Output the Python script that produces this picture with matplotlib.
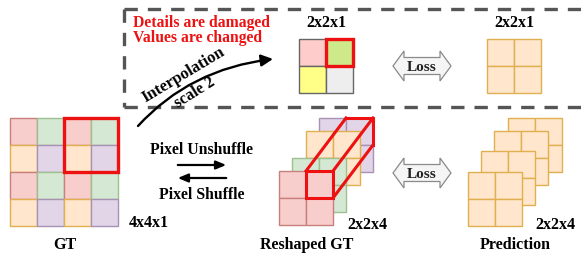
import matplotlib
matplotlib.use("Agg")
import matplotlib.pyplot as plt
from matplotlib.patches import Rectangle, Polygon, FancyArrowPatch
from matplotlib.path import Path

# ---- data (diagram content) ----
gt_pattern = [["pink", "green", "pink", "green"],
              ["orange", "purple", "orange", "purple"],
              ["pink", "green", "pink", "green"],
              ["orange", "purple", "orange", "purple"]]
fills = {"pink": "#f8cecc", "green": "#d5e8d4", "orange": "#ffe6cc", "purple": "#e1d5e7"}
edges = {"pink": "#c97f7c", "green": "#9cc08e", "orange": "#e0b050", "purple": "#a891b5"}
interp_colors = [["#ffcccc", "#cde98a"], ["#ffff88", "#eeeeee"]]
reshaped_order = ["purple", "orange", "green", "pink"]          # back to front
reshaped_origins = [(319, 119), (306, 132), (292, 159), (279, 172)]
pred_origins = [(508, 119), (494, 132), (481, 152), (468, 173)]
warn_lines = ["Details are damaged", "Values are changed"]
dim_labels = ["4x4x1", "2x2x1", "2x2x1", "2x2x4", "2x2x4"]
names = ["GT", "Reshaped GT", "Prediction"]

W, H = 581, 255
fig = plt.figure(figsize=(W / 100, H / 100), dpi=100)
ax = fig.add_axes([0, 0, 1, 1])
ax.set_xlim(0, W)
ax.set_ylim(H, 0)
ax.axis("off")

SERIF = ["Liberation Serif", "DejaVu Serif"]
FS = 11.5
C = 27  # cell size


def label(x, y, s, fs=FS, **kw):
    ax.text(x, y, s, ha="center", va="center", fontsize=fs, fontweight="bold",
            family=SERIF, **kw)


def grid2(x0, y0, fc, ec, lw=1.0, z=2):
    for r in range(2):
        for c in range(2):
            f = fc[r][c] if isinstance(fc, list) else fc
            ax.add_patch(Rectangle((x0 + c * C, y0 + r * C), C, C, facecolor=f,
                                   edgecolor=ec, lw=lw, zorder=z))


def loss_arrow(xc, yc):
    L, R = xc - 29, xc + 29
    hh, bh, head = 15, 8.5, 11
    pts = [(L, yc), (L + head, yc - hh), (L + head, yc - bh), (R - head, yc - bh),
           (R - head, yc - hh), (R, yc), (R - head, yc + hh), (R - head, yc + bh),
           (L + head, yc + bh), (L + head, yc + hh)]
    ax.add_patch(Polygon(pts, closed=True, facecolor="#f5f5f5", edgecolor="#8a8a8a",
                         lw=0.9, zorder=3))
    label(xc, yc + 1, "Loss", fs=11, color="#222222", zorder=4)


# dashed box
dk = dict(color="#555555", lw=2.4, dashes=(4, 3), zorder=1)
ax.plot([124, 124], [10, 108], **dk)
ax.plot([124, 581], [10, 10], **dk)
ax.plot([124, 581], [108, 108], **dk)

# warning text
for i, t in enumerate(warn_lines):
    ax.text(133, 23 + 15 * i, t, ha="left", va="center", fontsize=11.3,
            fontweight="bold", family=SERIF, color="#ee1111")

# GT grid
x0, y0 = 10, 119
for r in range(4):
    for c in range(4):
        k = gt_pattern[r][c]
        ax.add_patch(Rectangle((x0 + c * C, y0 + r * C), C, C, facecolor=fills[k],
                               edgecolor=edges[k], lw=1.0, zorder=2))
ax.add_patch(Rectangle((x0 + 2 * C, y0), 2 * C, 2 * C, facecolor="none",
                       edgecolor="#ee1111", lw=2.4, zorder=5))
label(65, 245, names[0])
label(149, 223, dim_labels[0])

# interpolation arrow (quadratic curve)
curve = Path([(138, 127), (190, 70), (273, 60)], [Path.MOVETO, Path.CURVE3, Path.CURVE3])
arr = FancyArrowPatch(path=curve, arrowstyle="-|>,head_length=7,head_width=3.5",
                      color="black", lw=1.7, zorder=6)
ax.add_patch(arr)
label(183, 75, "Interpolation", fs=12, rotation=31, zorder=7)
label(195, 93, "scale 2", fs=11.5, rotation=32, zorder=7)

# interpolated grid
grid2(299, 40, interp_colors, "#666666", lw=1.0)
ax.add_patch(Rectangle((299 + C, 40), C, C, facecolor="none", edgecolor="#ee1111", lw=2.4, zorder=5))
label(326, 23, dim_labels[1])

loss_arrow(422, 67)

# target 2x2x1
grid2(487, 40, fills["orange"], edges["orange"], lw=1.0)
label(514, 23, dim_labels[2])

# pixel (un)shuffle
label(202, 150, "Pixel Unshuffle", fs=11.3)
ax.annotate("", xy=(229, 166), xytext=(175, 166),
            arrowprops=dict(arrowstyle="-|>,head_length=0.6,head_width=0.25", color="black", lw=1.6))
ax.annotate("", xy=(175, 179), xytext=(229, 179),
            arrowprops=dict(arrowstyle="-|>,head_length=0.6,head_width=0.25", color="black", lw=1.6))
label(202, 195, "Pixel Shuffle", fs=11.3)

# reshaped GT stack
for z, (k, (ox, oy)) in enumerate(zip(reshaped_order, reshaped_origins)):
    grid2(ox, oy, fills[k], edges[k], lw=1.0, z=2 + z)
red = "#ee1111"
fx, fy = reshaped_origins[-1][0] + C, reshaped_origins[-1][1]
bx, by = reshaped_origins[0][0] + C, reshaped_origins[0][1]
lk = dict(color=red, lw=2.2, zorder=10, solid_capstyle="projecting")
ax.plot([bx, bx + C, bx + C], [by, by, by + C], **lk)
ax.plot([fx, bx], [fy, by], **lk)
ax.plot([fx + C, bx + C], [fy, by], **lk)
ax.plot([fx + C, bx + C], [fy + C, by + C], **lk)
ax.add_patch(Rectangle((fx, fy), C, C, facecolor="none", edgecolor=red, lw=2.2, zorder=10))
label(367, 225, dim_labels[3])
label(307, 245, names[1])

loss_arrow(422, 174)

# prediction stack
for z, (ox, oy) in enumerate(pred_origins):
    grid2(ox, oy, fills["orange"], "#e0b050", lw=1.0, z=2 + z)
label(555, 225, dim_labels[4])
label(515, 245, names[2])

fig.savefig("out.png", dpi=100)
